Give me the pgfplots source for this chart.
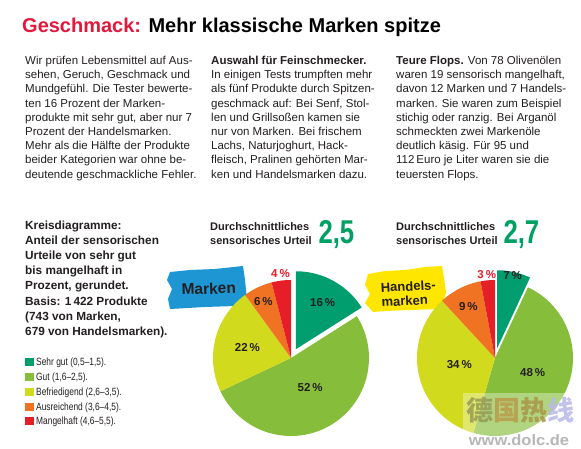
\documentclass[border=0pt]{standalone}
\usepackage{fontspec}
\setmainfont{Liberation Sans}
\newfontfamily\cjk{Noto Sans CJK SC}
\usepackage{pgfplots}
\pgfplotsset{compat=1.18}
\definecolor{sehrgut}{RGB}{0,158,110}
\definecolor{gut}{RGB}{134,190,60}
\definecolor{befr}{RGB}{210,218,30}
\definecolor{ausr}{RGB}{240,115,35}
\definecolor{mangel}{RGB}{230,30,40}
\definecolor{titlered}{RGB}{226,24,61}
\definecolor{txt}{RGB}{35,31,32}
\definecolor{avggreen}{RGB}{0,160,100}
\definecolor{markenblue}{RGB}{30,150,212}
\definecolor{hmyellow}{RGB}{255,230,0}

% value/colour/explode list, total
\newcommand{\drawpie}[2]{%
  \gdef\cum{0}%
  \foreach \v/\c/\e in {#1} {%
    \pgfmathsetmacro{\sa}{90-\cum/#2*360}%
    \pgfmathsetmacro{\newcum}{\cum+\v}%
    \pgfmathsetmacro{\sb}{90-\newcum/#2*360}%
    \xdef\cum{\newcum}%
    \pgfmathsetmacro{\sm}{(\sa+\sb)/2}%
    \pgfmathsetmacro{\dx}{\e*cos(\sm)}%
    \pgfmathsetmacro{\dy}{\e*sin(\sm)}%
    \edef\temp{\noexpand\addplot[fill=\c, draw=none, domain=\sb:\sa, samples=60] ({\dx+cos(x)},{\dy+sin(x)}) -- (axis cs:\dx,\dy) -- cycle;}%
    \temp
  }%
}
\newcommand{\pl}{\fontsize{11.5}{12}\selectfont\bfseries}

\begin{document}
\begin{tikzpicture}[x=1pt,y=1pt]
\fill[white] (0,0) rectangle (581,448);
\color{txt}
% title
\node[anchor=base west, inner sep=0] at (22,415) {\fontsize{20}{24}\selectfont\bfseries\textcolor{titlered}{Geschmack:} Mehr klassische Marken spitze};

% text columns
\node[anchor=base west, inner sep=0] at (25,383.5) {\parbox[t]{200pt}{\fontsize{11.5}{14.2}\selectfont\raggedright
Wir prüfen Lebensmittel auf Aus-\\
sehen, Geruch, Geschmack und\\
Mundgefühl. Die Tester bewerte-\\
ten 16 Prozent der Marken-\\
produkte mit sehr gut, aber nur 7\\
Prozent der Handelsmarken.\\
Mehr als die Hälfte der Produkte\\
beider Kategorien war ohne be-\\
deutende geschmackliche Fehler.}};

\node[anchor=base west, inner sep=0] at (211,383.5) {\parbox[t]{200pt}{\fontsize{11.5}{14.2}\selectfont\raggedright
\textbf{Auswahl für Feinschmecker.}\\
In einigen Tests trumpften mehr\\
als fünf Produkte durch Spitzen-\\
geschmack auf: Bei Senf, Stol-\\
len und Grillsoßen kamen sie\\
nur von Marken. Bei frischem\\
Lachs, Naturjoghurt, Hack-\\
fleisch, Pralinen gehörten Mar-\\
ken und Handelsmarken dazu.}};

\node[anchor=base west, inner sep=0] at (396,383.5) {\parbox[t]{200pt}{\fontsize{11.5}{14.2}\selectfont\raggedright
\textbf{Teure Flops.} Von 78 Olivenölen\\
waren 19 sensorisch mangelhaft,\\
davon 12 Marken und 7 Handels-\\
marken. Sie waren zum Beispiel\\
stichig oder ranzig. Bei Arganöl\\
schmeckten zwei Markenöle\\
deutlich käsig. Für 95 und\\
112\,Euro je Liter waren sie die\\
teuersten Flops.}};

% Kreisdiagramme note
\node[anchor=base west, inner sep=0] at (25,218.5) {\parbox[t]{200pt}{\fontsize{11.8}{15.1}\selectfont\bfseries\raggedright
Kreisdiagramme:\\
Anteil der sensorischen\\
Urteile von sehr gut\\
bis mangelhaft in\\
Prozent, gerundet.\\
Basis: 1\,422 Produkte\\
(743 von Marken,\\
679 von Handelsmarken).}};

% legend
\foreach \yb/\col/\lab in {82.5/sehrgut/{Sehr gut (0,5–1,5).}, 67.5/gut/{Gut (1,6–2,5).}, 52.5/befr/{Befriedigend (2,6–3,5).}, 37.7/ausr/{Ausreichend (3,6–4,5).}, 23.2/mangel/{Mangelhaft (4,6–5,5).}} {
  \fill[\col] (25,\yb-0.5) rectangle (34,\yb+7.5);
  \node[anchor=base west, inner sep=0] at (36,\yb) {\fontsize{10.5}{12}\selectfont\scalebox{0.8}[1]{\lab}};
}

% average ratings
\node[anchor=base west, inner sep=0] at (210,217.3) {\parbox[t]{120pt}{\fontsize{11}{14}\selectfont\bfseries\raggedright Durchschnittliches\\sensorisches Urteil}};
\node[anchor=base west, inner sep=0, text=avggreen] at (318.3,204.7) {\fontsize{33}{36}\selectfont\bfseries\scalebox{0.78}[1]{2,5}};
\node[anchor=base west, inner sep=0] at (396,217.3) {\parbox[t]{120pt}{\fontsize{11}{14}\selectfont\bfseries\raggedright Durchschnittliches\\sensorisches Urteil}};
\node[anchor=base west, inner sep=0, text=avggreen] at (503.3,204.7) {\fontsize{33}{36}\selectfont\bfseries\scalebox{0.78}[1]{2,7}};

% badges
\fill[markenblue] (170,176) -- (190,178) -- (215,179) -- (243,182) -- (245,168) -- (247,148) -- (235,142) -- (205,141) -- (170,139) -- (168,149) -- (172,159) -- (167,168) -- cycle;
\node[rotate=2, inner sep=0] at (208.7,159.5) {\fontsize{15.5}{16}\selectfont\bfseries Marken};
\fill[hmyellow] (368,174) -- (385,177) -- (405,178) -- (425,181) -- (442,182) -- (444,170) -- (446,156) -- (443,145) -- (440,139) -- (410,138) -- (385,137) -- (373,136) -- (365,145) -- (370,154) -- (365,163) -- cycle;
\node[rotate=3, inner sep=0, anchor=base] at (408.5,157) {\fontsize{13}{14}\selectfont\bfseries Handels-};
\node[rotate=3, inner sep=0, anchor=base] at (405,142.5) {\fontsize{13}{14}\selectfont\bfseries marken};

% pie 1: Marken
\begin{axis}[at={(291pt,90pt)}, anchor=origin, x=78pt, y=78pt, xmin=-1.2, xmax=1.2, ymin=-1.15, ymax=1.2, hide axis, clip=false]
\drawpie{16/sehrgut/0.128, 52/gut/0, 22/befr/0, 6/ausr/0, 4/mangel/0}{100}
\node[text=mangel] at (axis cs:-0.135,1.077) {\pl 4\,\%};
\node at (axis cs:-0.355,0.72) {\pl 6\,\%};
\node at (axis cs:-0.56,0.14) {\pl 22\,\%};
\node at (axis cs:0.245,-0.38) {\pl 52\,\%};
\node at (axis cs:0.405,0.71) {\pl 16\,\%};
\end{axis}

% pie 2: Handelsmarken
\begin{axis}[at={(495pt,90pt)}, anchor=origin, x=78pt, y=78pt, xmin=-1.2, xmax=1.2, ymin=-1.15, ymax=1.2, hide axis, clip=false]
\drawpie{7/sehrgut/0.128, 48/gut/0, 34/befr/0, 9/ausr/0, 3/mangel/0}{101}
\node[text=mangel] at (axis cs:-0.106,1.073) {\pl 3\,\%};
\node at (axis cs:0.227,1.055) {\pl 7\,\%};
\node at (axis cs:-0.342,0.658) {\pl 9\,\%};
\node at (axis cs:-0.458,-0.081) {\pl 34\,\%};
\node at (axis cs:0.483,-0.183) {\pl 48\,\%};
\end{axis}

% watermark
\fill[white, opacity=0.35] (463,2) rectangle (575,55);
\node[inner sep=0, opacity=0.85] at (520,38) {\fontsize{27}{30}\selectfont\cjk\bfseries\textcolor[RGB]{150,155,85}{德}\textcolor[RGB]{185,155,75}{国}\textcolor[RGB]{170,150,70}{热}\textcolor[RGB]{185,185,230}{线}};
\node[anchor=base, inner sep=0, text={rgb,255:red,175;green,175;blue,175}, opacity=0.9] at (519,3) {\fontsize{15}{16}\selectfont\bfseries\scalebox{1.1}[1]{www.dolc.de}};

\pgfresetboundingbox
\path[use as bounding box] (0,0) rectangle (581,448);
\end{tikzpicture}
\end{document}
